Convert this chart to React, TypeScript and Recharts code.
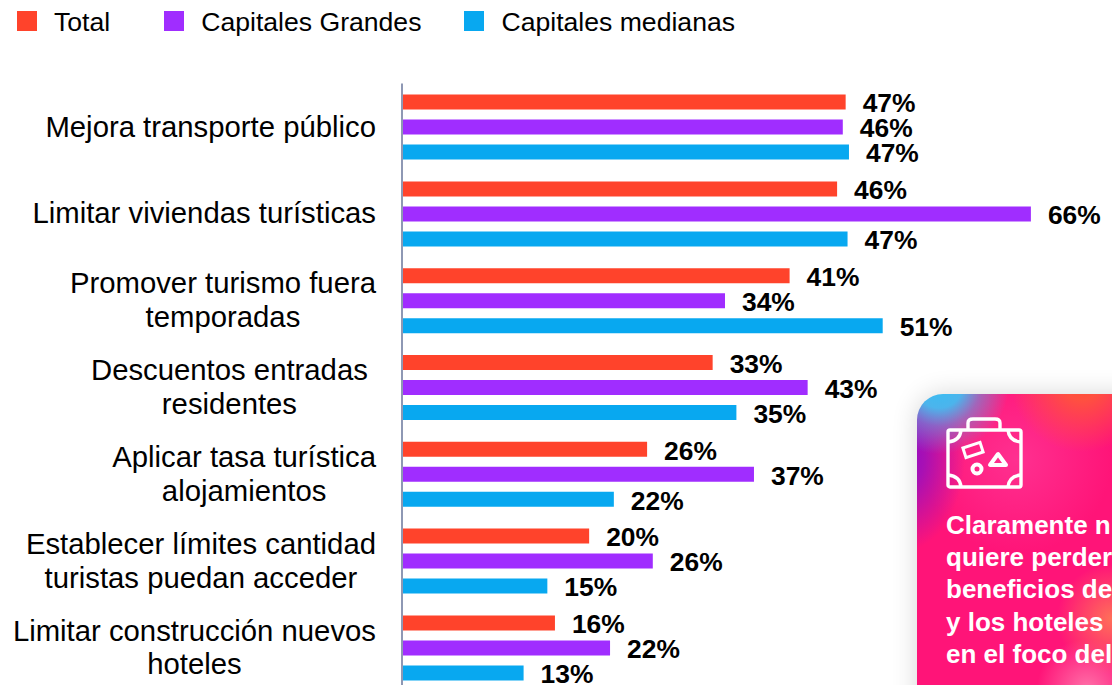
import { BarChart, Bar, XAxis, YAxis, Legend, LabelList } from "recharts";

const categories = [
  "Mejora transporte público",
  "Limitar viviendas turísticas",
  "Promover turismo fuera\ntemporadas",
  "Descuentos entradas  \nresidentes",
  "Aplicar tasa turística\nalojamientos",
  "Establecer límites cantidad\nturistas puedan acceder",
  "Limitar construcción nuevos\nhoteles",
];
const total = [46.7, 45.8, 40.8, 32.7, 25.8, 19.7, 16.1];
const capitalesGrandes = [46.4, 66.2, 34.0, 42.7, 37.05, 26.4, 21.9];
const capitalesMedianas = [47.05, 46.9, 50.6, 35.2, 22.3, 15.3, 12.8];
const cardLines = ["Claramente n", "quiere perder", "beneficios de", "y los hoteles", "en el foco del"];

const data = categories.map((name, i) => ({
  name,
  total: total[i],
  grandes: capitalesGrandes[i],
  medianas: capitalesMedianas[i],
}));

const FONT = "'Liberation Sans', Arial, sans-serif";
const TICK_SIZE = 29.3;

function textWidth(s: string) {
  const ctx = document.createElement("canvas").getContext("2d")!;
  ctx.font = `${TICK_SIZE}px 'Liberation Sans'`;
  return ctx.measureText(s).width;
}

// lines are centred on each other, the block itself sits right-aligned
function CategoryTick({ x, y, payload }: any) {
  const lines: string[] = payload.value.split("\n");
  const blockW = Math.max(...lines.map(textWidth));
  const cx = x - blockW / 2;
  const lineH = 33.8;
  const startY = y - ((lines.length - 1) * lineH) / 2;
  return (
    <text textAnchor="middle" fontFamily={FONT} fontSize={TICK_SIZE} fill="#000">
      {lines.map((l, i) => (
        <tspan key={i} x={cx} y={startY + i * lineH} dy="0.33em">
          {l.trim()}
        </tspan>
      ))}
    </text>
  );
}

function LegendRow({ payload }: any) {
  const gaps = [54, 43, 0];
  return (
    <div style={{ display: "flex", alignItems: "center", fontFamily: FONT, fontSize: 26.6, color: "#000", height: 44 }}>
      {(payload || []).map((p: any, i: number) => (
        <div key={p.value} style={{ display: "flex", alignItems: "center", marginRight: gaps[i] }}>
          <span style={{ width: 20, height: 20, background: p.color, marginRight: 17, marginTop: -2 }} />
          <span>{p.value}</span>
        </div>
      ))}
    </div>
  );
}

function Suitcase() {
  return (
    <svg width="80" height="74" viewBox="0 0 80 74" fill="none" stroke="#fff" strokeWidth="3.4">
      <path d="M22 13 V6 Q22 2 27 2 H49 Q54 2 54 6 V13" />
      <rect x="2" y="13" width="73" height="57" rx="2" />
      <path d="M2 25 Q14 24 15 13 M75 25 Q63 24 62 13 M2 58 Q14 59 15 70 M75 58 Q63 59 62 70" />
      <g transform="rotate(-18 27 33)">
        <rect x="18" y="28" width="18" height="10" strokeWidth="3" />
      </g>
      <circle cx="31" cy="52" r="4.5" strokeWidth="4" />
      <path d="M52 37 L44 48 H60 Z" strokeWidth="4" strokeLinejoin="round" />
    </svg>
  );
}

function Card() {
  return (
    <div
      style={{
        position: "absolute",
        left: 917,
        top: 394,
        width: 300,
        height: 400,
        borderRadius: 26,
        boxShadow: "0 0 26px rgba(0,0,0,0.16)",
        background: [
          "radial-gradient(circle at 22px -10px, #35c0f4 0, #4cb4ec 24px, rgba(100,150,225,0.6) 42px, rgba(76,180,236,0) 70px)",
          "radial-gradient(circle at 165px -14px, #ff4d30 0, #ff5040 20px, rgba(255,80,64,0) 72px)",
          "radial-gradient(ellipse 62px 95px at -14px 62px, #9008c8 0, #a810b4 35%, rgba(168,16,180,0) 100%)",
          "radial-gradient(circle at 195px 225px, #ff7058 0, rgba(255,112,88,0) 55px)",
          "radial-gradient(circle at 170px 295px, #ff70a8 0, rgba(255,112,168,0) 50px)",
          "radial-gradient(circle at 100px 65px, #ff3090 0, rgba(255,48,144,0) 95px)",
          "#ff1478",
        ].join(","),
      }}
    >
      <div style={{ position: "absolute", left: 29, top: 23 }}>
        <Suitcase />
      </div>
      <div
        style={{
          position: "absolute",
          left: 29,
          top: 115,
          fontFamily: FONT,
          fontWeight: 700,
          fontSize: 26,
          lineHeight: "32.2px",
          color: "#fff",
          whiteSpace: "nowrap",
        }}
      >
        {cardLines.map((l) => (
          <div key={l}>{l}</div>
        ))}
      </div>
    </div>
  );
}

const labelStyle = { fontFamily: FONT, fontSize: 26.4, fontWeight: 700, fill: "#000" };
const pct = (v: any) => `${Math.round(Number(v))}%`;

export default function App() {
  return (
    <div style={{ position: "absolute", left: 0, top: 0, width: 1112, height: 685, overflow: "hidden", background: "#fff" }}>
      <BarChart
        width={1112}
        height={700}
        data={data}
        layout="vertical"
        barSize={15}
        barGap={10}
        margin={{ top: 83.6, right: 45, bottom: 8.8, left: 0 }}
      >
        <XAxis type="number" hide domain={[0, 70]} />
        <YAxis
          type="category"
          dataKey="name"
          width={402}
          interval={0}
          tickLine={false}
          axisLine={{ stroke: "#8e98b4", strokeWidth: 2 }}
          tick={<CategoryTick />}
          tickMargin={20}
        />
        <Legend
          verticalAlign="middle"
          itemSorter={null}
          content={<LegendRow />}
          wrapperStyle={{ top: 0, left: 17, width: 800 }}
        />
        <Bar dataKey="total" name="Total" fill="#ff432b" isAnimationActive={false}>
          <LabelList dataKey="total" position="right" offset={17} formatter={pct} style={labelStyle} dy={1} />
        </Bar>
        <Bar dataKey="grandes" name="Capitales Grandes" fill="#a02dff" isAnimationActive={false}>
          <LabelList dataKey="grandes" position="right" offset={17} formatter={pct} style={labelStyle} dy={1} />
        </Bar>
        <Bar dataKey="medianas" name="Capitales medianas" fill="#08a8f0" isAnimationActive={false}>
          <LabelList dataKey="medianas" position="right" offset={17} formatter={pct} style={labelStyle} dy={1} />
        </Bar>
      </BarChart>
      <Card />
    </div>
  );
}
